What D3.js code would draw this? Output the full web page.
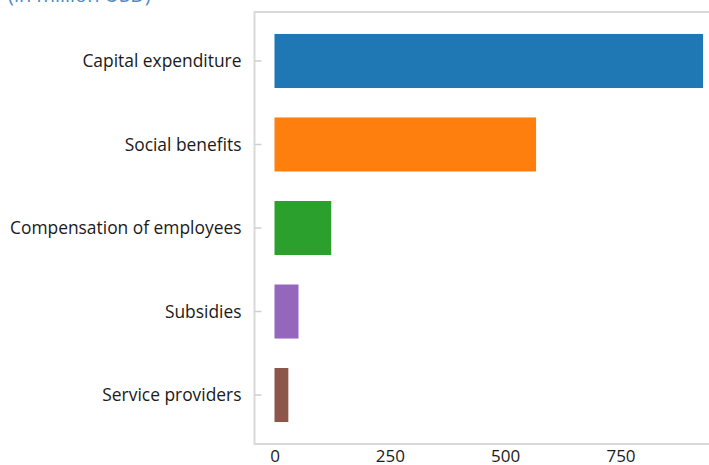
<!DOCTYPE html>
<html><head><meta charset="utf-8">
<script src="https://cdn.jsdelivr.net/npm/d3@7"></script>
<style>
body{margin:0;background:#fff;}
svg{display:block;}
svg text{font-family:"Open Sans","Noto Sans",sans-serif;}
</style></head>
<body>
<svg id="c" width="709" height="465"></svg>
<script>
const categories = ["Capital expenditure","Social benefits","Compensation of employees","Subsidies","Service providers"];
const values = [929, 567, 123, 52, 30];
const colors = ["#1f77b4","#ff7f0e","#2ca02c","#9467bd","#8c564b"];
const xTicks = [0, 250, 500, 750];
const subtitle = "(in million USD)";

const svg = d3.select("#c");
const plotLeft = 254.5, plotTop = 12, plotBottom = 444;
const x = d3.scaleLinear().domain([0, 750]).range([274.5, 620.5]);
const y = d3.scaleBand().domain(categories).range([19.25, 436.75]).paddingInner(0.353).paddingOuter(0.176);

// frame
svg.append("rect").attr("x", plotLeft).attr("y", plotTop).attr("width", 800).attr("height", plotBottom - plotTop)
  .attr("fill", "none").attr("stroke", "#d9d9d9").attr("stroke-width", 2);

// bars
svg.selectAll("rect.bar").data(categories).join("rect").attr("class","bar")
  .attr("x", x(0)).attr("y", d => y(d)).attr("height", y.bandwidth())
  .attr("width", (d,i) => x(values[i]) - x(0)).attr("fill", (d,i) => colors[i]);

// y axis
const ya = svg.append("g").attr("transform", `translate(${plotLeft},0)`)
  .call(d3.axisLeft(y).tickSize(0).tickPadding(13));
ya.attr("font-family", null).attr("font-size", null);
ya.select(".domain").remove();
ya.selectAll("text").attr("font-size", 17.4).attr("fill", "#1a1a1a").attr("dy", "0.36em");
ya.selectAll(".tick").append("line").attr("x1", 0).attr("x2", 7).attr("stroke", "#d0d0d0").attr("stroke-width", 1.5);

// x axis
const xa = svg.append("g").attr("transform", `translate(0,${plotBottom})`)
  .call(d3.axisBottom(x).tickValues(xTicks).tickSize(0).tickPadding(6));
xa.attr("font-family", null).attr("font-size", null);
xa.select(".domain").remove();
xa.selectAll("text").attr("font-size", 17).attr("fill", "#1a1a1a");

svg.append("text").attr("x", 8).attr("y", 2).attr("font-size", 20).attr("fill", "#4f8ac0").text(subtitle);
</script>
</body></html>
